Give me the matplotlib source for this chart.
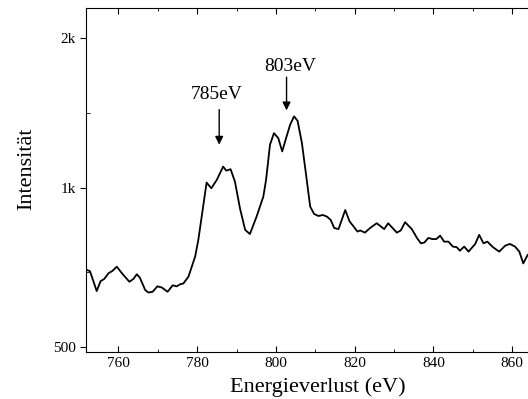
import matplotlib

matplotlib.use("Agg")
import matplotlib.pyplot as plt
import numpy as np
from matplotlib.ticker import FixedLocator, NullFormatter

# ----- data ------------------------------------------------------------------

energy = [
    752.0, 752.8, 754.5, 755.5, 756.4, 757.5, 758.5, 759.6, 760.9, 762.8,
    763.8, 764.7, 765.5, 766.8, 767.6, 768.7, 769.9, 771.0, 772.5, 773.8,
    774.8, 775.7, 776.5, 777.8, 779.5, 780.3, 781.4, 782.4, 783.6, 785.0,
    786.6, 787.4, 788.5, 789.6, 790.9, 792.2, 793.4, 795.1, 796.8, 797.5,
    798.5, 799.5, 800.6, 801.6, 802.7, 803.6, 804.6, 805.5, 806.6, 807.6,
    808.7, 809.7, 810.8, 811.9, 812.9, 813.9, 814.8, 815.9, 817.6, 818.7,
    819.7, 820.7, 821.4, 822.6, 823.9, 825.6, 827.5, 828.5, 830.7, 831.7,
    832.8, 834.5, 835.8, 836.8, 837.7, 838.7, 839.7, 840.7, 841.7, 842.7,
    843.8, 844.9, 845.9, 846.7, 847.8, 848.9, 850.6, 851.6, 852.7, 853.7,
    855.1, 856.7, 858.2, 859.4, 860.7, 861.8, 862.8, 863.9,
]
intensity = [
    696, 692, 635, 663, 669, 686, 693, 706, 686, 661,
    669, 683, 672, 638, 631, 633, 648, 645, 633, 651,
    648, 654, 656, 676, 738, 794, 907, 1026, 1000, 1039,
    1103, 1083, 1090, 1030, 912, 830, 815, 881, 963, 1039,
    1219, 1285, 1256, 1182, 1265, 1335, 1388, 1360, 1228, 1071,
    921, 891, 883, 887, 881, 868, 837, 833, 907, 862,
    843, 824, 828, 820, 837, 855, 833, 855, 820, 828,
    859, 833, 801, 782, 785, 801, 797, 797, 809, 788,
    788, 771, 769, 757, 771, 754, 780, 812, 782, 788,
    769, 754, 774, 780, 771, 754, 716, 743,
]

peak_labels = ["785eV", "803eV"]
peak_text_xy = [(784.9, 1535), (803.6, 1745)]
peak_arrow_from = [(785.6, 1432), (802.7, 1664)]
peak_arrow_to = [(785.6, 1219), (802.7, 1427)]

# the intensity axis is logarithmic with a constant offset
OFFSET = 70.0


def _fwd(y):
    return np.log(np.maximum(np.asarray(y, dtype=float) - OFFSET, 1e-9))


def _inv(v):
    return np.exp(v) + OFFSET


# ----- plot ------------------------------------------------------------------

plt.rcParams["font.family"] = ["Liberation Serif", "DejaVu Serif"]

fig = plt.figure(figsize=(5.28, 3.99), dpi=100)
ax = fig.add_axes([0.163, 0.1185, 0.837, 0.8605])

ax.plot(energy, intensity, color="black", linewidth=1.3)

for label, txy, a0, a1 in zip(peak_labels, peak_text_xy, peak_arrow_from, peak_arrow_to):
    ax.text(txy[0], txy[1], label, ha="center", va="center", fontsize=14)
    ax.annotate("", xy=a1, xytext=a0,
                arrowprops=dict(arrowstyle="-|>", color="black", lw=1.0,
                                mutation_scale=12, shrinkA=0, shrinkB=0))

ax.set_yscale("function", functions=(_fwd, _inv))
ax.set_xlim(751.8, 864.0)
ax.set_ylim(491, 2295)

ax.yaxis.set_major_locator(FixedLocator([500, 1000, 2000]))
ax.yaxis.set_major_formatter(matplotlib.ticker.FixedFormatter(["500", "1k", "2k"]))
ax.yaxis.set_minor_locator(FixedLocator([690, 1412]))
ax.yaxis.set_minor_formatter(NullFormatter())
ax.set_xticks([760, 780, 800, 820, 840, 860])
ax.xaxis.set_minor_locator(FixedLocator([770, 790, 810, 830, 850]))

ax.tick_params(axis="x", which="both", direction="in", top=True, labelsize=11)
ax.tick_params(axis="x", which="major", length=4)
ax.tick_params(axis="x", which="minor", length=2)
ax.tick_params(axis="y", which="major", direction="out", length=4, labelsize=11)
ax.tick_params(axis="y", which="minor", direction="in", length=3)
ax.spines["right"].set_visible(False)

ax.set_xlabel("Energieverlust (eV)", fontsize=16)
ax.xaxis.set_label_coords(0.524, -0.075)
ax.set_ylabel("Intensität", fontsize=16)
ax.yaxis.set_label_coords(-0.113, 0.532)

fig.savefig("out.png", dpi=100)
plt.close(fig)
